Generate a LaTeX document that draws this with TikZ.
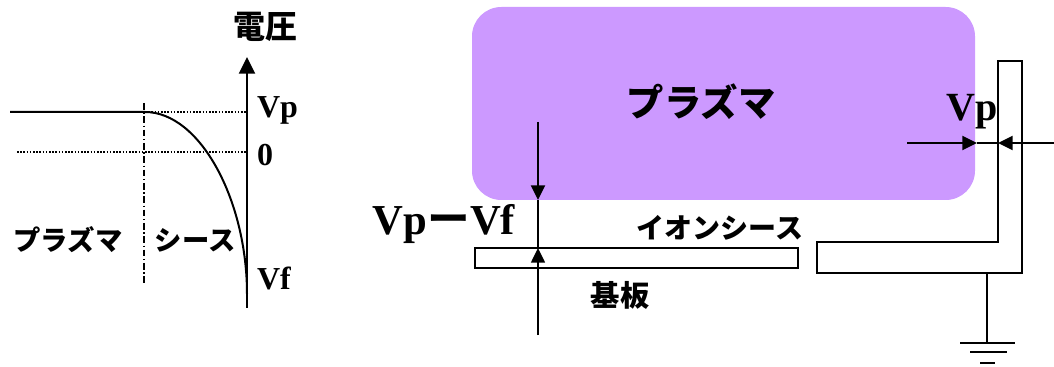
\documentclass[tikz,border=0pt]{standalone}
\usepackage{fontspec}
\setmainfont{Liberation Serif}
\newfontfamily\jpfont[UprightFont=* Black]{Noto Sans CJK JP}
\usetikzlibrary{arrows.meta}
\definecolor{plasmafill}{HTML}{CC99FF}

\begin{document}
\begin{tikzpicture}[x=0.75pt, y=-0.75pt, line width=1.5pt, >={Triangle[length=11pt,width=10.5pt]},
	jp/.style={font=\jpfont\fontsize{#1}{#1}\selectfont, inner sep=0pt},
	lat/.style={font=\bfseries\fontsize{#1}{#1}\selectfont, inner sep=0pt}]
	\useasboundingbox (0,0) rectangle (1054,367);
	% potential curve
	\coordinate (axbot) at (247,308);
	\coordinate (axtop) at (247,57);
	\coordinate (flatL) at (10,112);
	\coordinate (knee) at (145,112);
	\coordinate (vpax) at (247,112);
	\coordinate (zeroL) at (17,152);
	\coordinate (zeroax) at (247,152);
	\coordinate (vfax) at (247,294);
	\coordinate (edgeT) at (144,103);
	\coordinate (edgeB) at (144,283);
	\draw[-{Triangle[length=12.5pt,width=12pt]}] (axbot) -- (axtop);
	\draw (flatL) -- (knee) .. controls (200,112) and (247,200) .. (vfax);
	\draw[line width=0.8pt, dash pattern=on 1.2pt off 1.2pt] (knee) -- (vpax);
	\draw[line width=0.8pt, dash pattern=on 1.2pt off 1.2pt] (zeroL) -- (zeroax);
	\draw[line width=1pt, dash pattern=on 5pt off 2pt on 1pt off 2pt] (edgeT) -- (edgeB);
	\node[jp=24] (volt) at (265,27) {電圧};
	\node[lat=24, anchor=west] (vplbl) at (256,110) {Vp};
	\node[lat=24, anchor=west] (zerolbl) at (256,155) {0};
	\node[lat=24, anchor=west] (vflbl) at (256,278) {Vf};
	\node[jp=20.5] (plasmaL) at (68,240) {プラズマ};
	\node[jp=20.5] (sheathL) at (195,240) {シース};
	% plasma and substrate
	\fill[plasmafill, rounded corners=22pt] (472,7) rectangle (975,200);
	\node[jp=28] (plasmaR) at (701,102) {プラズマ};
	\draw (475,248) rectangle (798,268);
	\coordinate (gapT) at (538,122);
	\coordinate (plasmaB) at (538,200);
	\coordinate (subTop) at (538,248);
	\coordinate (gapB) at (538,335);
	\draw[->] (gapT) -- (plasmaB);
	\draw[line width=0.8pt] (plasmaB) -- (subTop);
	\draw[->, line width=1.1pt] (gapB) -- (subTop);
	\node[lat=32] (vpvf) at (444,224) {Vp{\jpfont ー}Vf};
	\node[jp=21] (ionsheath) at (720,228) {イオンシース};
	\node[jp=22] (kiban) at (620,295) {基板};
	% grounded wall
	\draw[line width=1.3pt] (998,61) -- (1022,61) -- (1022,273) -- (817,273) -- (817,242) -- (998,242) -- cycle;
	\coordinate (wallB) at (987,273);
	\coordinate (gnd) at (987,343);
	\draw[line width=1.3pt] (wallB) -- (gnd);
	\draw[line width=2pt] (960,343) -- (1015,343);
	\draw[line width=2pt] (970,352) -- (1007,352);
	\draw[line width=2pt] (980,363) -- (995,363);
	\coordinate (vpL) at (907,143);
	\coordinate (plasmaE) at (977,143);
	\coordinate (wallE) at (998,143);
	\coordinate (vpR) at (1054,143);
	\draw[->] (vpL) -- (plasmaE);
	\draw[line width=0.8pt] (plasmaE) -- (wallE);
	\draw[->] (vpR) -- (wallE);
	\node[lat=30] (vpwall) at (972,112) {Vp};
\end{tikzpicture}
\end{document}
